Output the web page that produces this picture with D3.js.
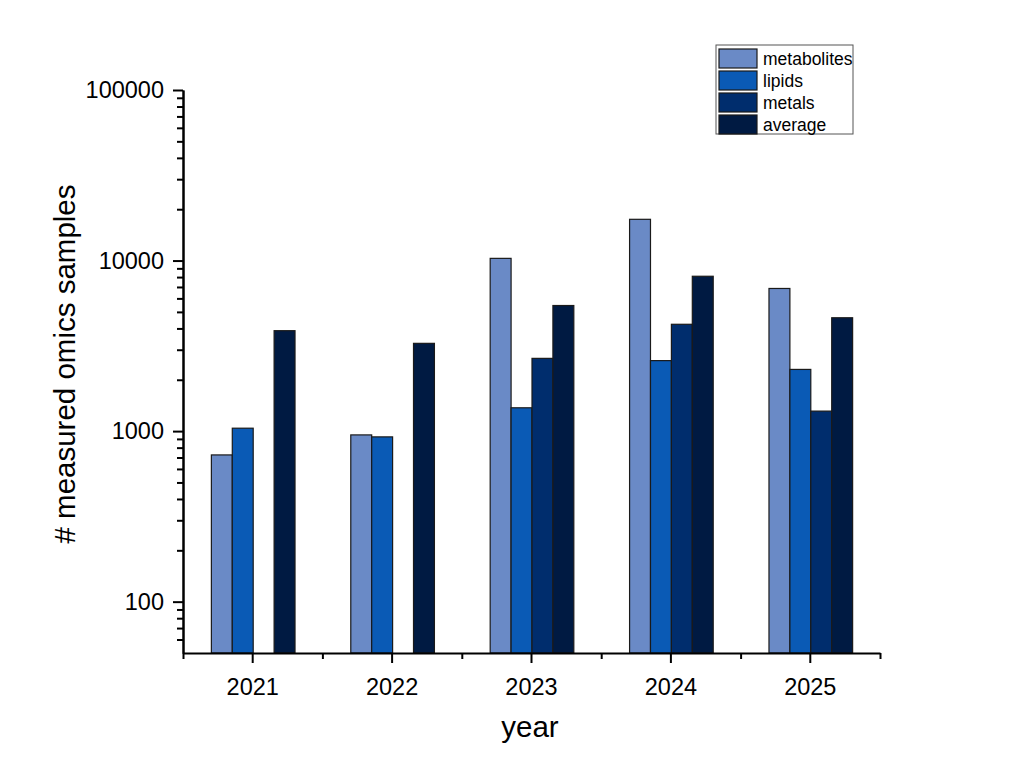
<!DOCTYPE html>
<html>
<head>
<meta charset="utf-8" />
<script src="https://d3js.org/d3.v7.min.js"></script>
<style>
  body { margin: 0; background: #fff; }
  svg text { font-family: "Liberation Sans", Arial, sans-serif; fill: #000; }
  .axis path, .axis line { stroke: #000; stroke-width: 2px; }
  .bar { stroke: #1a1a1a; stroke-width: 1.2px; }
</style>
</head>
<body>
<div id="chart"></div>
<script>
const years = ["2021", "2022", "2023", "2024", "2025"];
const series = ["metabolites", "lipids", "metals", "average"];
const metabolites = [725, 950, 10300, 17450, 6860];
const lipids = [1040, 925, 1370, 2590, 2300];
const metals = [null, null, 2670, 4230, 1310];
const average = [3880, 3270, 5450, 8090, 4620];
const colors = ["#6a8ac6", "#0a5ab5", "#002d6d", "#001a42"];
const yMajor = [100, 1000, 10000, 100000];

const width = 1024, height = 784;
const margin = { left: 183, right: 144, top: 90, bottom: 131 };

const values = { metabolites, lipids, metals, average };
const rows = [];
years.forEach((yr, i) => {
  series.forEach(s => {
    if (values[s][i] != null) rows.push({ year: yr, series: s, value: values[s][i] });
  });
});

const svg = d3.select("#chart").append("svg").attr("width", width).attr("height", height);

const x = d3.scaleBand().domain(years)
  .range([margin.left, width - margin.right])
  .paddingInner(0.4).paddingOuter(0.2);
const xs = d3.scaleBand().domain(series).range([0, x.bandwidth()]);
const xMinor = d3.scaleLinear().domain([0.5, 5.5]).range([margin.left, width - margin.right]);
const y = d3.scaleLog().domain([50, 100000]).range([height - margin.bottom, margin.top]);
const color = d3.scaleOrdinal().domain(series).range(colors);

// bars
svg.append("g").selectAll("rect")
  .data(rows).enter().append("rect")
  .attr("class", "bar")
  .attr("x", d => x(d.year) + xs(d.series) + 0.5)
  .attr("width", xs.bandwidth())
  .attr("y", d => y(d.value))
  .attr("height", d => y(50) - y(d.value))
  .attr("fill", d => color(d.series));

// y axis
const yMinor = [];
for (let e = 1; e <= 4; e++) {
  for (let k = 2; k <= 9; k++) {
    const v = k * Math.pow(10, e);
    if (v > 50 && v < 100000) yMinor.push(v);
  }
}
svg.append("g").attr("class", "axis")
  .attr("transform", `translate(${margin.left},0)`)
  .call(d3.axisLeft(y).tickValues(yMinor).tickSize(6).tickSizeOuter(0).tickFormat(""));
svg.append("g").attr("class", "axis")
  .attr("transform", `translate(${margin.left},0)`)
  .call(d3.axisLeft(y).tickValues(yMajor).tickFormat(d3.format("d")).tickSize(10).tickSizeOuter(0).tickPadding(9))
  .call(g => g.selectAll("text").style("font-size", "23.5px"));

// x axis
svg.append("g").attr("class", "axis")
  .attr("transform", `translate(0,${height - margin.bottom})`)
  .call(d3.axisBottom(xMinor).tickValues([0.5, 1.5, 2.5, 3.5, 4.5, 5.5]).tickSize(6).tickSizeOuter(0).tickFormat(""));
svg.append("g").attr("class", "axis")
  .attr("transform", `translate(0,${height - margin.bottom})`)
  .call(d3.axisBottom(x).tickSize(10).tickSizeOuter(0).tickPadding(15))
  .call(g => g.select(".domain").remove())
  .call(g => g.selectAll("text").style("font-size", "23.5px"));

// axis titles
svg.append("text")
  .attr("transform", "translate(75,364) rotate(-90)")
  .attr("text-anchor", "middle")
  .style("font-size", "29.5px")
  .text("# measured omics samples");
svg.append("text")
  .attr("x", 530).attr("y", 737)
  .attr("text-anchor", "middle")
  .style("font-size", "29.5px")
  .text("year");

// legend
const legend = svg.append("g").attr("transform", "translate(716,45)");
legend.append("rect")
  .attr("width", 137).attr("height", 89)
  .attr("fill", "#fff").attr("stroke", "#555").attr("stroke-width", 1);
const item = legend.selectAll("g.item").data(series).enter().append("g")
  .attr("class", "item")
  .attr("transform", (d, i) => `translate(3,${4 + i * 22})`);
item.append("rect")
  .attr("width", 38).attr("height", 19)
  .attr("fill", d => color(d))
  .attr("stroke", "#1a1a1a").attr("stroke-width", 1.2);
item.append("text")
  .attr("x", 44).attr("y", 15.5)
  .style("font-size", "17.5px")
  .text(d => d);
</script>
</body>
</html>
